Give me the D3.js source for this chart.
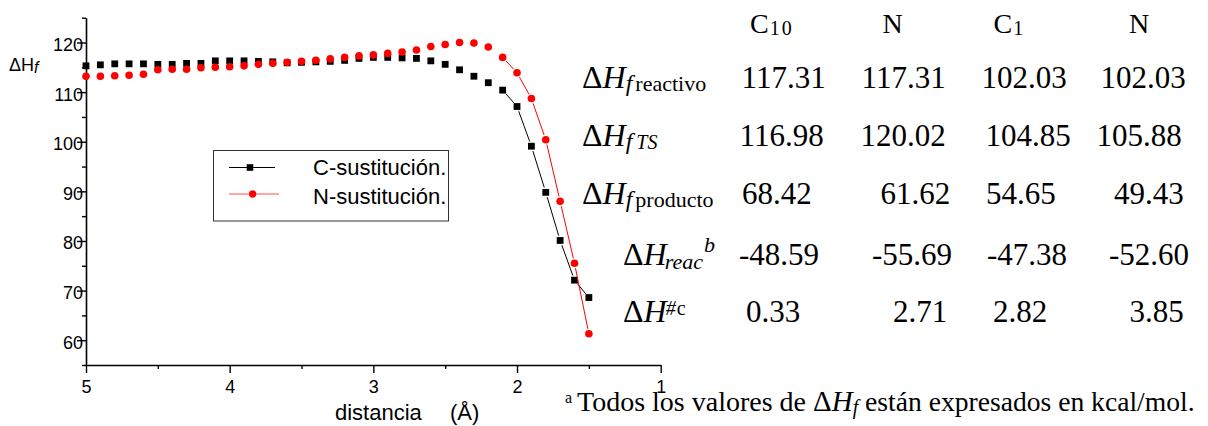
<!DOCTYPE html>
<html><head><meta charset="utf-8">
<script src="https://cdn.jsdelivr.net/npm/d3@7"></script>
<style>body{margin:0;background:#fff}svg{display:block}</style>
</head><body>
<svg id="c" width="1208" height="426"></svg>
<script>
// ---------- data ----------
const distances = [5.0,4.9,4.8,4.7,4.6,4.5,4.4,4.3,4.2,4.1,4.0,3.9,3.8,3.7,3.6,3.5,3.4,3.3,3.2,3.1,3.0,2.9,2.8,2.7,2.6,2.5,2.4,2.3,2.2,2.1,2.0,1.9,1.8,1.7,1.6,1.5];
const cSustitucion = [115.3,115.5,115.7,115.7,115.7,115.6,115.6,115.8,115.8,116.3,116.3,116.3,116.2,116.1,115.9,116.0,116.1,116.2,116.4,116.8,117.0,117.0,116.9,116.8,116.3,115.6,114.5,113.2,111.9,110.4,107.1,99.1,89.8,80.1,72.1,68.6];
const nSustitucion = [113.2,113.2,113.3,113.4,113.6,114.5,114.6,114.6,114.9,115.0,115.1,115.3,115.6,115.8,116.0,116.2,116.4,116.7,117.0,117.3,117.5,117.8,118.1,118.5,119.2,119.6,120.0,119.9,119.1,117.0,113.9,108.7,100.4,88.0,75.5,61.3];
const seriesNames = ["C-sustitución.", "N-sustitución."];
const xTicks = [5,4,3,2,1];
const xMinorTicks = [4.5,3.5,2.5,1.5];
const yTicks = [60,70,80,90,100,110,120];
const yMinorTicks = [55,65,75,85,95,105,115,125];
const lineStartDistance = 2.1; // connecting line only drawn from here on

const tableHeaders = [["C","10"],["N",""],["C","1"],["N",""]];
const tableValues = [
  ["117.31","117.31","102.03","102.03"],
  ["116.98","120.02","104.85","105.88"],
  ["68.42","61.62","54.65","49.43"],
  ["-48.59","-55.69","-47.38","-52.60"],
  ["0.33","2.71","2.82","3.85"]
];

// ---------- layout ----------
const svg = d3.select("#c");
const x = d3.scaleLinear().domain([5,1]).range([86,660.7]);
const y = d3.scaleLinear().domain([55,125]).range([365,17.7]);
const sans = "'Liberation Sans', Arial, sans-serif";
const serif = "'Liberation Serif', 'Times New Roman', 'DejaVu Serif', serif";

// axes
const gy = svg.append("g").attr("transform","translate(86,0)")
  .call(d3.axisLeft(y).tickValues(yTicks).tickSize(9).tickSizeOuter(0));
gy.select(".domain").attr("stroke-width",1.6);
gy.selectAll(".tick line").attr("stroke-width",1.4);
gy.selectAll(".tick text").attr("x",-3).attr("dy",8)
  .style("font-family",sans).style("font-size","18px").attr("fill","#000");
const gym = svg.append("g").attr("transform","translate(86,0)")
  .call(d3.axisLeft(y).tickValues(yMinorTicks).tickSize(4).tickSizeOuter(0).tickFormat(""));
gym.select(".domain").remove();
gym.selectAll(".tick line").attr("stroke-width",1.4);

const gx = svg.append("g").attr("transform","translate(0,365)")
  .call(d3.axisBottom(x).tickValues(xTicks).tickSize(8).tickSizeOuter(0).tickFormat(d3.format("d")));
gx.select(".domain").attr("stroke-width",1.6);
gx.selectAll(".tick line").attr("stroke-width",1.4);
gx.selectAll(".tick text").attr("y",27.7).attr("dy",0)
  .style("font-family",sans).style("font-size","18px").attr("fill","#000");
const gxm = svg.append("g").attr("transform","translate(0,365)")
  .call(d3.axisBottom(x).tickValues(xMinorTicks).tickSize(4).tickSizeOuter(0).tickFormat(""));
gxm.select(".domain").remove();
gxm.selectAll(".tick line").attr("stroke-width",1.4);

// axis titles
const yl = svg.append("text").attr("x",9).attr("y",71).style("font-family",sans).attr("fill","#000");
yl.append("tspan").style("font-size","18px").text("ΔH");
yl.append("tspan").style("font-size","16px").style("font-style","italic").attr("dy",2).text("f");
const xl = svg.append("text").attr("y",420).style("font-family",sans).style("font-size","22px").attr("fill","#000");
xl.append("tspan").attr("x",335).text("distancia");
xl.append("tspan").attr("x",450).text("(Å)");

// series
const series = [
  {name: seriesNames[0], values: cSustitucion, color: "#000000", shape: "square"},
  {name: seriesNames[1], values: nSustitucion, color: "#ff0000", shape: "circle"}
];
const gap = 5;
series.forEach(s => {
  const pts = distances.map((d,i) => [x(d), y(s.values[i]), d]);
  const g = svg.append("g");
  for (let i = 0; i < pts.length-1; i++) {
    if (pts[i][2] > lineStartDistance + 1e-9) continue;
    const [x1,y1] = pts[i], [x2,y2] = pts[i+1];
    const L = Math.hypot(x2-x1, y2-y1);
    if (L <= 2*gap) continue;
    const ux = (x2-x1)/L, uy = (y2-y1)/L;
    g.append("line").attr("x1",x1+ux*gap).attr("y1",y1+uy*gap)
      .attr("x2",x2-ux*gap).attr("y2",y2-uy*gap)
      .attr("stroke",s.color).attr("stroke-width",1);
  }
  if (s.shape === "square") {
    g.selectAll("rect").data(pts).join("rect")
      .attr("x",p=>p[0]-3.4).attr("y",p=>p[1]-3.4).attr("width",6.8).attr("height",6.8)
      .attr("fill",s.color);
  } else {
    g.selectAll("circle").data(pts).join("circle")
      .attr("cx",p=>p[0]).attr("cy",p=>p[1]).attr("r",3.8).attr("fill",s.color);
  }
});

// legend
const lg = svg.append("g");
lg.append("rect").attr("x",213.5).attr("y",150.5).attr("width",235).attr("height",70.5)
  .attr("fill","none").attr("stroke","#333").attr("stroke-width",1);
series.forEach((s,i) => {
  const ly = [167.5,194][i];
  lg.append("line").attr("x1",229).attr("x2",i?279:275).attr("y1",ly).attr("y2",ly)
    .attr("stroke",s.color).attr("stroke-width",1).attr("stroke-opacity", i?0.7:1);
  const cx = i?252.7:250;
  if (s.shape==="square") lg.append("rect").attr("x",cx-3.3).attr("y",ly-3.3).attr("width",6.6).attr("height",6.6).attr("fill",s.color);
  else lg.append("circle").attr("cx",cx).attr("cy",ly).attr("r",3.7).attr("fill",s.color);
  lg.append("text").attr("x",313).attr("y",[175,204.3][i]).style("font-family",sans)
    .style("font-size","22px").attr("fill","#000").text(s.name);
});

// table header
const headerX = [750, 882.5, 993.5, 1129];
tableHeaders.forEach((h,j) => {
  const t = svg.append("text").attr("x",headerX[j]).attr("y",33.3).style("font-family",serif).attr("fill","#000");
  t.append("tspan").style("font-size","28px").text(h[0]);
  if (h[1]) t.append("tspan").style("font-size","20px").style("letter-spacing","2px").attr("dx",1).attr("dy",2).text(h[1]);
});

// table row labels
const rowBase = [88.3, 146.3, 204, 265, 321.7];
function deltaH(t, size) {
  t.append("tspan").style("font-size",size+"px").text("Δ");
  t.append("tspan").style("font-size",size+"px").style("font-style","italic").text("H");
}
const rowSubs = [["reactivo",false],["TS",true],["producto",false]];
rowSubs.forEach((rs,i) => {
  const t = svg.append("text").attr("x",582).attr("y",rowBase[i]).style("font-family",serif).attr("fill","#000");
  deltaH(t,32);
  t.append("tspan").style("font-size","24px").style("font-style","italic").attr("dy",3).text("f");
  t.append("tspan").style("font-size",rs[1]?"20px":"22px").style("font-style",rs[1]?"italic":"normal")
    .attr("dx",rs[1]?4:3).text(rs[0]);
});
{
  const t = svg.append("text").attr("x",623).attr("y",rowBase[3]).style("font-family",serif).attr("fill","#000");
  deltaH(t,32);
  t.append("tspan").style("font-size","22px").style("font-style","italic").attr("dx",-2).attr("dy",4).text("reac");
  t.append("tspan").style("font-size","22px").style("font-style","italic").attr("dx",1).attr("dy",-17).text("b");
}
{
  const t = svg.append("text").attr("x",623).attr("y",rowBase[4]).style("font-family",serif).attr("fill","#000");
  deltaH(t,32);
  t.append("tspan").style("font-size","20px").style("font-style","italic").attr("dx",-1).attr("dy",-7).text("#");
  t.append("tspan").style("font-size","20px").attr("dx",1).text("c");
}

// table values (ink-left positions of each cell as laid out in the source)
const cellLeft = [[745,865,985,1104],[743,864,989,1100],[743,881.5,987,1115],[740,873,988,1110],[747,894,994,1130.5]];
tableValues.forEach((row,i) => row.forEach((v,j) => {
  const bearing = v[0]==="1" ? 3.4 : 1;
  svg.append("text").attr("x",cellLeft[i][j]-bearing).attr("y",rowBase[i])
    .style("font-family",serif).style("font-size","31px").attr("fill","#000").text(v);
}));

// footnote
svg.append("text").attr("x",565).attr("y",403).style("font-family",serif)
  .style("font-size","16px").attr("fill","#000").text("a");
{
  const t = svg.append("text").attr("x",577).attr("y",411).style("font-family",serif).attr("fill","#000");
  t.append("tspan").style("font-size","28px").text("Todos los valores de ");
  t.append("tspan").style("font-size","29px").text("Δ");
  t.append("tspan").style("font-size","29px").style("font-style","italic").text("H");
  t.append("tspan").style("font-size","20px").style("font-style","italic").attr("dy",3).text("f");
  t.append("tspan").style("font-size","27.6px").attr("dy",-3).text(" están expresados en kcal/mol.");
}
</script>
</body></html>
